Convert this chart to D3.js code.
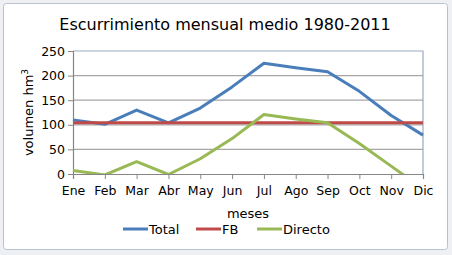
<!DOCTYPE html>
<html><head><meta charset="utf-8">
<script src="https://cdn.jsdelivr.net/npm/d3@7"></script>
<style>body{margin:0;background:#fff}svg{display:block}text{font-family:"DejaVu Sans",Verdana,sans-serif;fill:#000}</style>
</head><body>
<svg id="c" width="452" height="255"></svg>
<script>
const months = ["Ene","Feb","Mar","Abr","May","Jun","Jul","Ago","Sep","Oct","Nov","Dic"];
const total = [110,101,130,104,134,177,225,216,208,168,119,79];
const fb = [104,104,104,104,104,104,104,104,104,104,104,104];
const directo = [7,-2,25,-1,31,72,121,112,104,62,16,-30];
const yTicks = [0,50,100,150,200,250];
const seriesNames = ["Total","FB","Directo"];
const colors = ["#4a7ebb","#be4b48","#98b954"];

const svg = d3.select("#c");
svg.append("rect").attr("x",0).attr("y",0).attr("width",452).attr("height",255).attr("fill","#eef0f3");
svg.append("rect").attr("x",3.5).attr("y",3.5).attr("width",444).attr("height",246).attr("rx",3)
  .attr("fill","#fff").attr("stroke","#b8c2cf");

const L=73,R=423,T=51,B=174;
const x = d3.scalePoint().domain(months).range([L,R]);
const y = d3.scaleLinear().domain([0,250]).range([B,T]);

// grid
svg.append("g").selectAll("line").data(yTicks.filter(v=>v>0&&v<250)).join("line")
  .attr("x1",L).attr("x2",R).attr("y1",d=>y(d)).attr("y2",d=>y(d))
  .attr("stroke","#a6a6a6").attr("stroke-width",1.2);
// plot border top/right
svg.append("path").attr("d",`M${L},${y(250)}H${R}V${B}`).attr("fill","none").attr("stroke","#9aa9c4").attr("stroke-width",1.2);

// axes
const yAxis = d3.axisLeft(y).tickValues(yTicks).tickSize(5).tickPadding(3);
const gy = svg.append("g").attr("transform",`translate(${L},0)`).call(yAxis);
const xAxis = d3.axisBottom(x).tickSize(5).tickPadding(5);
const gx = svg.append("g").attr("transform",`translate(0,${B})`).call(xAxis);
[gy,gx].forEach(g=>{
  g.select(".domain").attr("stroke","#868686").attr("stroke-width",1.2);
  g.selectAll(".tick line").attr("stroke","#868686");
  g.selectAll(".tick text").attr("font-size",12.5).attr("font-family","DejaVu Sans").attr("fill","#000");
});
gx.selectAll(".tick text").attr("dy","0.9em");

// clip
svg.append("clipPath").attr("id","clip").append("rect").attr("x",L-2).attr("y",T-3).attr("width",R-L+4).attr("height",B-T+3);

const data = [total,fb,directo];
const line = d3.line().x((d,i)=>x(months[i])).y(d=>y(d));
svg.append("g").attr("clip-path","url(#clip)").selectAll("path").data(data).join("path")
  .attr("d",line).attr("fill","none").attr("stroke",(d,i)=>colors[i]).attr("stroke-width",3)
  .attr("stroke-linejoin","round");

// title
svg.append("text").attr("x",225).attr("y",30).attr("text-anchor","middle").attr("font-size",16).text("Escurrimiento mensual medio 1980-2011");
// axis titles
svg.append("text").attr("x",248).attr("y",218).attr("text-anchor","middle").attr("font-size",13).text("meses");
const yl = svg.append("text").attr("transform",`translate(33,${(T+B)/2}) rotate(-90)`).attr("text-anchor","middle").attr("font-size",13);
yl.append("tspan").text("volumen hm");
yl.append("tspan").attr("font-size",9).attr("dy","-0.6em").text("3");

// legend
const legX = [123,196,257];
const lg = svg.append("g").selectAll("g").data(seriesNames).join("g").attr("transform",(d,i)=>`translate(${legX[i]},229)`);
lg.append("line").attr("x1",0).attr("x2",25).attr("stroke",(d,i)=>colors[i]).attr("stroke-width",3);
lg.append("text").attr("x",26).attr("y",4.5).attr("font-size",13).text(d=>d);
</script>
</body></html>
